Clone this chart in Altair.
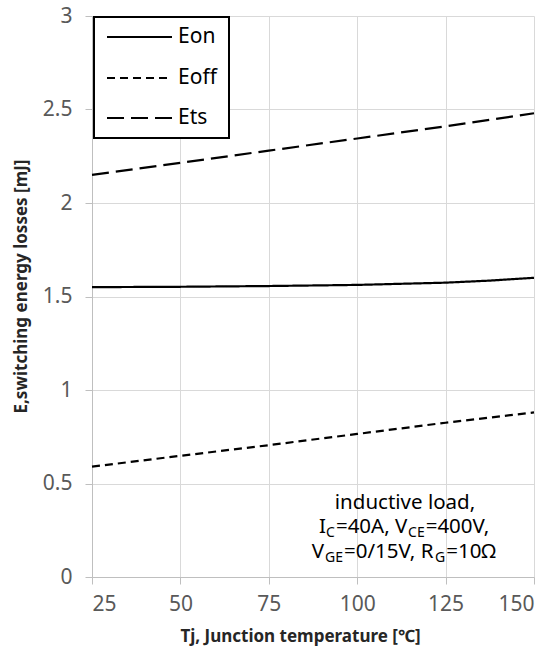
import altair as alt
import pandas as pd

# ---------------- data ----------------
series = ["Eon", "Eoff", "Ets"]
temp_on = [25, 50, 75, 100, 125, 137.5, 150]
eon = [1.550, 1.552, 1.556, 1.562, 1.574, 1.585, 1.600]
temp_lin = [25, 50, 75, 100, 125, 150]
eoff = [0.590, 0.648, 0.705, 0.765, 0.825, 0.880]
ets = [2.150, 2.215, 2.280, 2.345, 2.410, 2.480]
x_ticks = [25, 50, 75, 100, 125, 150]
y_ticks = [0, 0.5, 1, 1.5, 2, 2.5, 3]
dashes = [[1, 0], [8, 5], [17, 7]]

rows = []
for t, v in zip(temp_on, eon):
    rows.append({"T": t, "E": v, "series": "Eon"})
for t, v in zip(temp_lin, eoff):
    rows.append({"T": t, "E": v, "series": "Eoff"})
for t, v in zip(temp_lin, ets):
    rows.append({"T": t, "E": v, "series": "Ets"})
df = pd.DataFrame(rows)

FONT = "Noto Sans"

# ---------------- legend layout (pixels in plot area) ----------------
leg_rows = [21, 62, 102]
leg_df = pd.DataFrame({"series": series, "ly": leg_rows})

# ---------------- annotation text (with subscripts) ----------------
MAIN_FS = 20.5
SUB_FS = 14
GAP = 1
EM = {"I": 0.30, "C": 0.632, "E": 0.556, "G": 0.725, "V": 0.596, "A": 0.639,
      "R": 0.618, "=": 0.572, ",": 0.258, " ": 0.26, "/": 0.372, "Ω": 0.77}
for d in "0123456789":
    EM[d] = 0.572

def seg_width(s, fs):
    return sum(EM.get(c, 0.55) for c in s) * fs + GAP

line1 = "inductive load,"
line2 = [("I", 0), ("C", 1), ("=40A, V", 0), ("CE", 1), ("=400V,", 0)]
line3 = [("V", 0), ("GE", 1), ("=0/15V, R", 0), ("G", 1), ("=10Ω", 0)]
center_x = 313
base_y = [493, 517, 542]
SUB_DY = 4

ann_c = pd.DataFrame([{"px": center_x, "py": base_y[0], "txt": line1, "fs": MAIN_FS}])
ann = []
for segs, by in ((line2, base_y[1]), (line3, base_y[2])):
    total = sum(seg_width(s, SUB_FS if sub else MAIN_FS) for s, sub in segs)
    x = center_x - total / 2
    for s, sub in segs:
        fs = SUB_FS if sub else MAIN_FS
        ann.append({"px": x, "py": by + (SUB_DY if sub else 0), "txt": s, "fs": fs})
        x += seg_width(s, fs)
ann_l = pd.DataFrame(ann)

dash_scale = alt.Scale(domain=series, range=dashes)

# ---------------- chart ----------------
lines = alt.Chart(df).mark_line(color="black", strokeWidth=2.2).encode(
    x=alt.X("T:Q", scale=alt.Scale(domain=[25, 150], nice=False, zero=False),
            axis=alt.Axis(values=x_ticks, title="Tj, Junction temperature [℃]",
                          labelPadding=9, titleX=208, titleY=59,
                          titleBaseline="middle", titleAlign="center")),
    y=alt.Y("E:Q", scale=alt.Scale(domain=[0, 3], nice=False),
            axis=alt.Axis(values=y_ticks, format="~g",
                          title="E,switching energy losses [mJ]",
                          labelPadding=13, titleX=-71, titleY=270,
                          titleBaseline="middle", titleAlign="center", titleAngle=-90)),
    strokeDash=alt.StrokeDash("series:N", scale=dash_scale, legend=None),
)

leg_box = alt.Chart(leg_df).mark_rect(fill="white", stroke="black", strokeWidth=2).encode(
    x=alt.value(2), x2=alt.value(137), y=alt.value(1), y2=alt.value(122)
)
leg_sym = alt.Chart(leg_df).mark_rule(color="black", strokeWidth=2).encode(
    x=alt.value(15), x2=alt.value(80),
    y=alt.Y("ly:Q", scale=None, axis=None),
    strokeDash=alt.StrokeDash("series:N", scale=dash_scale, legend=None),
)
leg_txt = alt.Chart(leg_df).mark_text(font=FONT, fontSize=21, color="black",
                                      align="left", baseline="middle").encode(
    x=alt.value(86),
    y=alt.Y("ly:Q", scale=None, axis=None),
    text="series:N",
)

text_center = alt.Chart(ann_c).mark_text(
    font=FONT, color="black", baseline="alphabetic", align="center").encode(
    x=alt.X("px:Q", scale=None, axis=None),
    y=alt.Y("py:Q", scale=None, axis=None),
    text="txt:N",
    size=alt.Size("fs:Q", scale=None, legend=None),
)
text_left = alt.Chart(ann_l).mark_text(
    font=FONT, color="black", baseline="alphabetic", align="left").encode(
    x=alt.X("px:Q", scale=None, axis=None),
    y=alt.Y("py:Q", scale=None, axis=None),
    text="txt:N",
    size=alt.Size("fs:Q", scale=None, legend=None),
)

chart = alt.layer(lines, leg_box, leg_sym, leg_txt, text_center, text_left).resolve_scale(
    x="independent", y="independent"
).properties(
    width=442, height=561,
    padding={"left": 92, "top": 16, "right": 22, "bottom": 75},
    autosize="none",
).configure_view(strokeWidth=0).configure_axis(
    labelFont=FONT, labelFontSize=21, labelColor="#595959",
    tickSize=7, tickColor="#bfbfbf", domainColor="#bfbfbf",
    gridColor="#d9d9d9", gridWidth=1, grid=True,
    titleFont=FONT, titleFontSize=17, titleFontWeight="bold", titleColor="#262626",
)

chart.save("out.html", embed_options={"renderer": "svg", "actions": False})
